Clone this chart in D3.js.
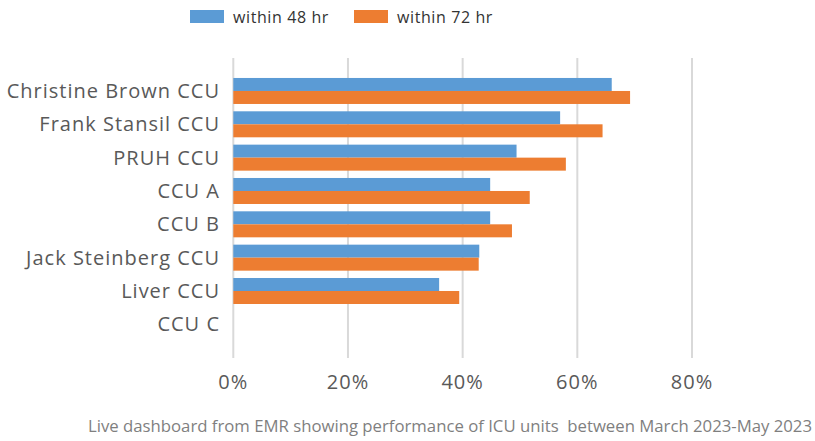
<!DOCTYPE html>
<html>
<head>
<meta charset="utf-8">
<script src="https://cdn.jsdelivr.net/npm/d3@7"></script>
<style>
  body { margin: 0; background: #fff; }
  text { font-family: "Open Sans", "Noto Sans", sans-serif; }
</style>
</head>
<body>
<svg id="chart" width="815" height="441"></svg>
<script>
let width = 815;
let height = 441;

// data
let units = ['Christine Brown CCU', 'Frank Stansil CCU', 'PRUH CCU', 'CCU A', 'CCU B', 'Jack Steinberg CCU', 'Liver CCU', 'CCU C'];
let within48 = [0.660, 0.570, 0.494, 0.448, 0.448, 0.429, 0.359, 0];
let within72 = [0.692, 0.644, 0.580, 0.517, 0.486, 0.428, 0.394, 0];
let seriesNames = ['within 48 hr', 'within 72 hr'];
let colors = ['#5B9BD5', '#ED7D31'];
let xTicks = [0, 0.2, 0.4, 0.6, 0.8];
let caption = 'Live dashboard from EMR showing performance of ICU units  between March 2023-May 2023';

let svg = d3.select('#chart');

let x = d3.scaleLinear().domain([0, 0.8]).range([233.3, 692]);
let y = d3.scaleBand().domain(units).range([74.3, 341]).paddingInner(0.22).paddingOuter(0.11);
let ySub = d3.scaleBand().domain([0, 1]).range([0, y.bandwidth()]);

let gridTop = 58, gridBottom = 358;

// gridlines
svg.append('g')
  .selectAll('line')
  .data(xTicks)
  .enter()
  .append('line')
  .attr('x1', d => x(d))
  .attr('x2', d => x(d))
  .attr('y1', gridTop)
  .attr('y2', gridBottom)
  .attr('stroke', '#d9d9d9')
  .attr('stroke-width', 2);

// tick labels
svg.append('g')
  .selectAll('text')
  .data(xTicks)
  .enter()
  .append('text')
  .attr('x', d => x(d))
  .attr('y', 382)
  .attr('dy', '0.35em')
  .attr('text-anchor', 'middle')
  .attr('fill', '#595959')
  .attr('font-size', 20)
  .attr('letter-spacing', 1)
  .text(d3.format('.0%'));

// bars
let rows = units.map((u, i) => ({ unit: u, values: [within48[i], within72[i]] }));

let groups = svg.append('g')
  .selectAll('g')
  .data(rows)
  .enter()
  .append('g')
  .attr('transform', d => 'translate(0,' + y(d.unit) + ')');

groups.selectAll('rect')
  .data(d => d.values.map((v, k) => ({ v: v, k: k })))
  .enter()
  .append('rect')
  .attr('x', x(0))
  .attr('y', d => ySub(d.k))
  .attr('width', d => x(d.v) - x(0))
  .attr('height', ySub.bandwidth())
  .attr('fill', d => colors[d.k]);

// category labels
svg.append('g')
  .selectAll('text')
  .data(units)
  .enter()
  .append('text')
  .attr('x', 220)
  .attr('y', d => y(d) + y.bandwidth() / 2)
  .attr('dy', '0.35em')
  .attr('text-anchor', 'end')
  .attr('fill', '#595959')
  .attr('font-size', 20)
  .attr('letter-spacing', 1)
  .text(d => d);

// legend
let legendX = [190, 354];
let legend = svg.append('g')
  .selectAll('g')
  .data(seriesNames)
  .enter()
  .append('g')
  .attr('transform', (d, i) => 'translate(' + legendX[i] + ',10)');

legend.append('rect')
  .attr('width', 34)
  .attr('height', 13)
  .attr('fill', (d, i) => colors[i]);

legend.append('text')
  .attr('x', 43)
  .attr('y', 7)
  .attr('dy', '0.35em')
  .attr('fill', '#333')
  .attr('font-size', 16)
  .attr('letter-spacing', 0.6)
  .text(d => d);

// caption
svg.append('text')
  .attr('x', 88)
  .attr('y', 432)
  .attr('fill', '#7f7f7f')
  .attr('font-size', 16)
  .attr('textLength', 724)
  .attr('lengthAdjust', 'spacingAndGlyphs')
  .style('white-space', 'pre')
  .text(caption);
</script>
</body>
</html>
